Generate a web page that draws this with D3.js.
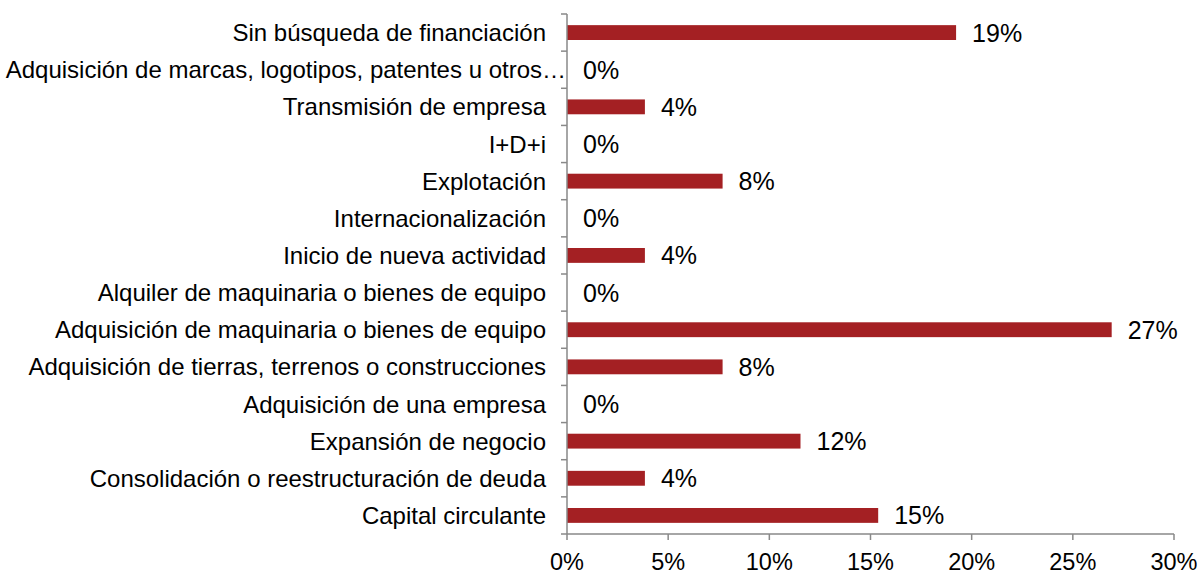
<!DOCTYPE html>
<html>
<head>
<meta charset="utf-8">
<script src="https://cdn.jsdelivr.net/npm/d3@7"></script>
<style>
  body { margin: 0; background: #fff; }
  svg text { font-family: "Liberation Sans", Arial, sans-serif; fill: #000; }
</style>
</head>
<body>
<svg id="chart" width="1204" height="574"></svg>
<script>
// categories, top to bottom
var categories = [
	"Sin búsqueda de financiación",
	"Adquisición de marcas, logotipos, patentes u otros…",
	"Transmisión de empresa",
	"I+D+i",
	"Explotación",
	"Internacionalización",
	"Inicio de nueva actividad",
	"Alquiler de maquinaria o bienes de equipo",
	"Adquisición de maquinaria o bienes de equipo",
	"Adquisición de tierras, terrenos o construcciones",
	"Adquisición de una empresa",
	"Expansión de negocio",
	"Consolidación o reestructuración de deuda",
	"Capital circulante"
];
// share of answers, in %
var values = [19.23, 0, 3.85, 0, 7.69, 0, 3.85, 0, 26.92, 7.69, 0, 11.54, 3.85, 15.38];
var xTicks = [0, 5, 10, 15, 20, 25, 30];

var svg = d3.select("#chart"),
	plotLeft = 567,
	plotRight = 1174,
	plotTop = 14,
	plotBottom = 534;

var x = d3.scaleLinear().domain([0, 30]).range([plotLeft, plotRight]);
var y = d3.scaleBand().domain(categories).range([plotTop, plotBottom]).paddingInner(0.6).paddingOuter(0.3);

// bars
svg.selectAll("rect.bar")
	.data(values)
	.enter()
	.append("rect")
	.attr("class", "bar")
	.attr("x", x(0))
	.attr("y", function(d, i) { return y(categories[i]); })
	.attr("width", function(d) { return x(d) - x(0); })
	.attr("height", y.bandwidth())
	.attr("fill", "#A42023");

// value labels
svg.selectAll("text.val")
	.data(values)
	.enter()
	.append("text")
	.attr("class", "val")
	.attr("x", function(d) { return x(d) + 16; })
	.attr("y", function(d, i) { return y(categories[i]) + y.bandwidth() / 2; })
	.attr("dy", "0.36em")
	.attr("font-size", 25)
	.text(function(d) { return Math.round(d) + "%"; });

// y axis: line and ticks between categories
var yGrid = d3.scaleLinear().domain([0, categories.length]).range([plotTop, plotBottom]);
var yAxis = svg.append("g");
yAxis.append("line")
	.attr("x1", plotLeft).attr("x2", plotLeft)
	.attr("y1", plotTop).attr("y2", plotBottom)
	.attr("stroke", "#898989").attr("stroke-width", 1.5);
yAxis.selectAll("line.tick")
	.data(d3.range(categories.length + 1))
	.enter()
	.append("line")
	.attr("class", "tick")
	.attr("x1", plotLeft - 6).attr("x2", plotLeft)
	.attr("y1", function(d) { return yGrid(d); })
	.attr("y2", function(d) { return yGrid(d); })
	.attr("stroke", "#898989").attr("stroke-width", 1.5);

// category labels
svg.selectAll("text.cat")
	.data(categories)
	.enter()
	.append("text")
	.attr("class", "cat")
	.attr("x", function(d, i) { return i == 1 ? plotLeft - 1 : plotLeft - 21; })
	.attr("y", function(d) { return y(d) + y.bandwidth() / 2; })
	.attr("dy", "0.36em")
	.attr("text-anchor", "end")
	.attr("font-size", 24)
	.text(function(d) { return d; });

// x axis
var xAxis = svg.append("g");
xAxis.append("line")
	.attr("x1", plotLeft).attr("x2", plotRight)
	.attr("y1", plotBottom).attr("y2", plotBottom)
	.attr("stroke", "#898989").attr("stroke-width", 1.5);
xAxis.selectAll("line.tick")
	.data(xTicks)
	.enter()
	.append("line")
	.attr("class", "tick")
	.attr("x1", function(d) { return x(d); })
	.attr("x2", function(d) { return x(d); })
	.attr("y1", plotBottom).attr("y2", plotBottom + 6)
	.attr("stroke", "#898989").attr("stroke-width", 1.5);
xAxis.selectAll("text")
	.data(xTicks)
	.enter()
	.append("text")
	.attr("x", function(d) { return x(d); })
	.attr("y", 570)
	.attr("text-anchor", "middle")
	.attr("font-size", 23.5)
	.text(function(d) { return d + "%"; });
</script>
</body>
</html>
